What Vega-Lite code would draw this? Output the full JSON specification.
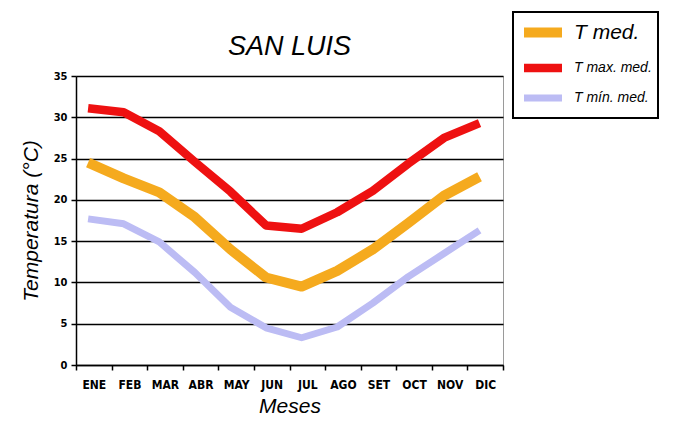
{
  "$schema": "https://vega.github.io/schema/vega-lite/v6.json",
  "width": 427,
  "height": 289,
  "autosize": {"type": "none"},
  "padding": {"left": 76, "top": 76, "right": 170, "bottom": 67},
  "background": "white",
  "config": {
    "view": {"stroke": "#9a9a9a", "strokeWidth": 1},
    "font": "Liberation Sans"
  },
  "title": {
    "text": "SAN LUIS",
    "font": "Liberation Sans",
    "fontSize": 27,
    "fontStyle": "italic",
    "fontWeight": "normal",
    "color": "black",
    "anchor": "middle",
    "frame": "group",
    "offset": 0,
    "dy": 50
  },
  "data": {
    "values": [
      {"mes": "ENE", "serie": "T max. med.", "temp": 31.1},
      {"mes": "FEB", "serie": "T max. med.", "temp": 30.6},
      {"mes": "MAR", "serie": "T max. med.", "temp": 28.3},
      {"mes": "ABR", "serie": "T max. med.", "temp": 24.6},
      {"mes": "MAY", "serie": "T max. med.", "temp": 21.0},
      {"mes": "JUN", "serie": "T max. med.", "temp": 16.9},
      {"mes": "JUL", "serie": "T max. med.", "temp": 16.5},
      {"mes": "AGO", "serie": "T max. med.", "temp": 18.5},
      {"mes": "SET", "serie": "T max. med.", "temp": 21.1},
      {"mes": "OCT", "serie": "T max. med.", "temp": 24.4},
      {"mes": "NOV", "serie": "T max. med.", "temp": 27.5},
      {"mes": "DIC", "serie": "T max. med.", "temp": 29.3},
      {"mes": "ENE", "serie": "T med.", "temp": 24.5},
      {"mes": "FEB", "serie": "T med.", "temp": 22.6},
      {"mes": "MAR", "serie": "T med.", "temp": 20.9},
      {"mes": "ABR", "serie": "T med.", "temp": 17.9},
      {"mes": "MAY", "serie": "T med.", "temp": 14.0},
      {"mes": "JUN", "serie": "T med.", "temp": 10.6},
      {"mes": "JUL", "serie": "T med.", "temp": 9.5},
      {"mes": "AGO", "serie": "T med.", "temp": 11.4},
      {"mes": "SET", "serie": "T med.", "temp": 14.0},
      {"mes": "OCT", "serie": "T med.", "temp": 17.2},
      {"mes": "NOV", "serie": "T med.", "temp": 20.5},
      {"mes": "DIC", "serie": "T med.", "temp": 22.8},
      {"mes": "ENE", "serie": "T mín. med.", "temp": 17.7},
      {"mes": "FEB", "serie": "T mín. med.", "temp": 17.1},
      {"mes": "MAR", "serie": "T mín. med.", "temp": 14.9},
      {"mes": "ABR", "serie": "T mín. med.", "temp": 11.2},
      {"mes": "MAY", "serie": "T mín. med.", "temp": 7.0},
      {"mes": "JUN", "serie": "T mín. med.", "temp": 4.5},
      {"mes": "JUL", "serie": "T mín. med.", "temp": 3.3},
      {"mes": "AGO", "serie": "T mín. med.", "temp": 4.6},
      {"mes": "SET", "serie": "T mín. med.", "temp": 7.5},
      {"mes": "OCT", "serie": "T mín. med.", "temp": 10.7},
      {"mes": "NOV", "serie": "T mín. med.", "temp": 13.5},
      {"mes": "DIC", "serie": "T mín. med.", "temp": 16.3}
    ]
  },
  "mark": {"type": "line", "strokeCap": "butt", "strokeJoin": "round"},
  "encoding": {
    "x": {
      "field": "mes",
      "type": "ordinal",
      "sort": ["ENE", "FEB", "MAR", "ABR", "MAY", "JUN", "JUL", "AGO", "SET", "OCT", "NOV", "DIC"],
      "bandPosition": 0.34,
      "scale": {"type": "band", "paddingInner": 0, "paddingOuter": 0},
      "axis": {
        "title": "Meses",
        "titleFont": "Liberation Sans",
        "titleFontSize": 21,
        "titleFontStyle": "italic",
        "titleFontWeight": "normal",
        "titleColor": "black",
        "titlePadding": 5,
        "labelAngle": 0,
        "labelFont": "DejaVu Sans Condensed, DejaVu Sans",
        "labelFontWeight": "bold",
        "labelFontSize": 12,
        "labelColor": "black",
        "labelPadding": 9,
        "tickBand": "extent",
        "ticks": true,
        "tickSize": 5,
        "tickWidth": 1.5,
        "tickColor": "black",
        "domainColor": "black",
        "domainWidth": 1.5,
        "grid": false
      }
    },
    "y": {
      "field": "temp",
      "type": "quantitative",
      "scale": {"domain": [0, 35], "nice": false},
      "axis": {
        "title": "Temperatura (°C)",
        "titleFont": "Liberation Sans",
        "titleFontSize": 21,
        "titleFontStyle": "italic",
        "titleFontWeight": "normal",
        "titleColor": "black",
        "titlePadding": 12,
        "values": [0, 5, 10, 15, 20, 25, 30, 35],
        "labelFont": "DejaVu Sans Condensed, DejaVu Sans",
        "labelFontWeight": "bold",
        "labelFontSize": 11,
        "labelColor": "black",
        "labelPadding": 4,
        "tickSize": 5,
        "tickWidth": 1.5,
        "tickColor": "black",
        "domainColor": "black",
        "domainWidth": 1.5,
        "grid": true,
        "gridColor": "black",
        "gridWidth": 1.5,
        "gridOpacity": 1
      }
    },
    "color": {
      "field": "serie",
      "type": "nominal",
      "scale": {
        "domain": ["T med.", "T max. med.", "T mín. med."],
        "range": ["#F5AA1E", "#EE1111", "#BCBCF4"]
      },
      "legend": {
        "title": null,
        "orient": "none",
        "legendX": 437,
        "legendY": -64,
        "direction": "vertical",
        "strokeColor": "black",
        "fillColor": "white",
        "padding": 6,
        "rowPadding": -2,
        "symbolType": "M-1,0H3",
        "symbolSize": 361,
        "symbolStrokeWidth": 7,
        "labelFont": "Liberation Sans",
        "labelFontStyle": "italic",
        "labelColor": "black",
        "labelFontSize": 14,
        "labelOffset": 26,
        "labelLimit": 200,
        "encode": {
          "legend": {"update": {"strokeWidth": {"value": 2}}},
          "labels": {
            "update": {
              "fontSize": {"signal": "datum.label === 'T med.' ? 21 : 14"}
            }
          }
        }
      }
    },
    "strokeWidth": {
      "field": "serie",
      "type": "nominal",
      "scale": {
        "domain": ["T med.", "T max. med.", "T mín. med."],
        "range": [10, 7, 8]
      },
      "legend": null
    }
  }
}
